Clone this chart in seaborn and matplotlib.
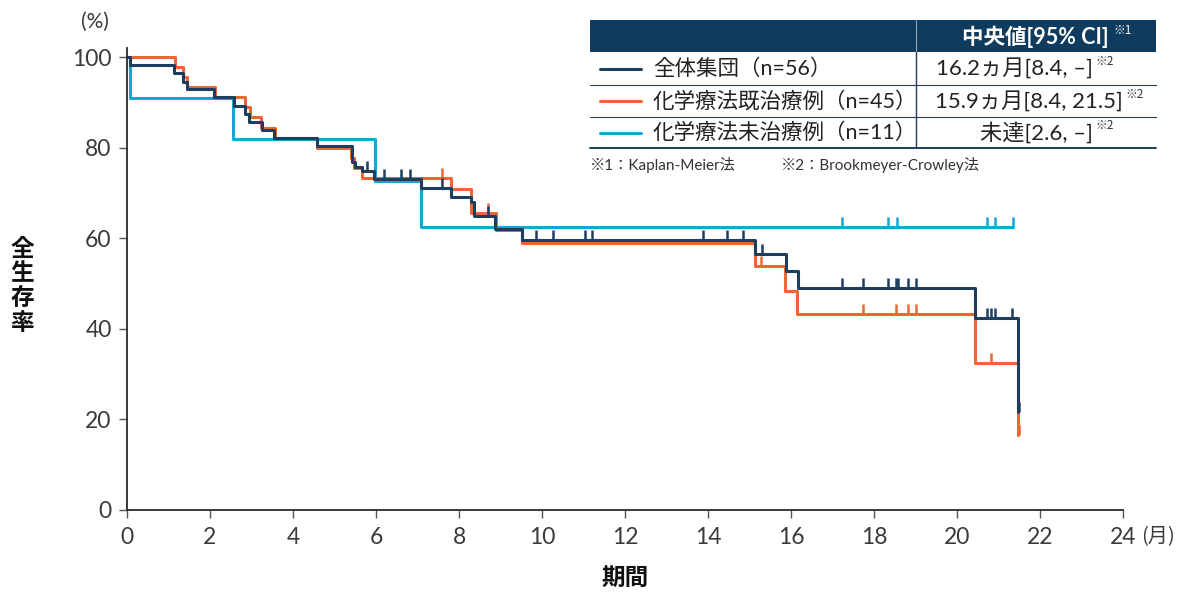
import matplotlib
matplotlib.use("Agg")
from matplotlib import pyplot as plt
from matplotlib.path import Path
from matplotlib.patches import Rectangle
import seaborn as sns
import pandas as pd

# Kaplan-Meier step points (months, % surviving)
all_t = [0, 0.07, 1.14, 1.36, 1.45, 2.10, 2.57, 2.84, 2.95, 3.25, 3.55, 4.58, 5.41, 5.50, 5.66,
         5.94, 7.08, 7.80, 8.28, 8.35, 8.87, 9.51, 15.13, 15.87, 16.16, 20.43, 21.48]
all_s = [100, 98.2, 96.4, 94.6, 92.9, 91.1, 89.3, 87.5, 85.7, 83.9, 82.1, 80.4, 76.8, 75.8, 74.9,
         73.0, 71.2, 69.0, 68.1, 65.0, 62.0, 59.7, 56.5, 52.7, 49.1, 42.3, 21.7]
all_cens_t = [5.78, 6.20, 6.60, 6.82, 7.60, 8.69, 9.86, 10.27, 11.04, 11.21, 13.87, 14.45, 14.85,
              15.29, 17.22, 17.74, 18.33, 18.53, 18.59, 18.83, 19.01, 20.72, 20.82, 20.92, 21.33, 21.50]
all_cens_s = [74.9, 73.0, 73.0, 73.0, 71.2, 65.0, 59.7, 59.7, 59.7, 59.7, 59.7, 59.7, 59.7,
              56.5, 49.1, 49.1, 49.1, 49.1, 49.1, 49.1, 49.1, 42.3, 42.3, 42.3, 42.3, 21.7]

pre_t = [0, 1.16, 1.36, 1.45, 2.12, 2.84, 2.96, 3.24, 3.57, 4.58, 5.40, 5.48, 5.66, 7.81, 8.28,
         8.88, 9.51, 15.13, 15.86, 16.15, 20.43, 21.48]
pre_s = [100, 97.8, 95.6, 93.3, 91.1, 88.9, 86.7, 84.4, 82.2, 80.0, 77.8, 75.6, 73.3, 70.9, 65.5,
         61.8, 59.0, 53.9, 48.3, 43.3, 32.4, 16.5]
pre_cens_t = [7.60, 8.69, 15.28, 17.74, 18.53, 18.83, 19.01, 20.81, 21.50]
pre_cens_s = [73.3, 65.5, 53.9, 43.3, 43.3, 43.3, 43.3, 32.4, 16.5]

naive_t = [0, 0.07, 2.56, 5.97, 7.08, 21.35]
naive_s = [100, 90.9, 81.8, 72.7, 62.4, 62.4]
naive_cens_t = [17.22, 18.33, 18.56, 20.72, 20.91, 21.35]
naive_cens_s = [62.4, 62.4, 62.4, 62.4, 62.4, 62.4]

labels = ["全体集団（n=56）", "化学療法既治療例（n=45）", "化学療法未治療例（n=11）"]
medians = ["16.2ヵ月[8.4, –]", "15.9ヵ月[8.4, 21.5]", "未達[2.6, –]"]

NAVY = "#1d3e5f"
ORANGE = "#ee6631"
CYAN = "#13a6d6"
HEAD = "#0f3c5e"

sns.set_style("ticks")
plt.rcParams['font.family'] = ['Noto Sans CJK JP', 'DejaVu Sans']
MIX = ['Lato', 'Noto Sans CJK JP', 'DejaVu Sans']

W, H = 1183, 592
fig = plt.figure(figsize=(W / 100, H / 100), dpi=100)
ax = fig.add_axes([127 / W, 1 - 510 / H, (1123 - 127) / W, (510 - 48) / H])

tick = Path([(0, 0), (0, 1)], [Path.MOVETO, Path.LINETO])
curves = [
    (naive_t, naive_s, naive_cens_t, naive_cens_s, CYAN),
    (pre_t, pre_s, pre_cens_t, pre_cens_s, ORANGE),
    (all_t, all_s, all_cens_t, all_cens_s, NAVY),
]
for t, s, ct, cs, col in curves:
    df = pd.DataFrame({"t": t, "s": s})
    sns.lineplot(data=df, x="t", y="s", ax=ax, color=col, lw=2.2,
                 drawstyle="steps-post", estimator=None, sort=False)
    ax.plot(ct, cs, ls="none", marker=tick, markersize=14, mew=1.8,
            mec=col, mfc=col)

ax.set_xlim(0, 24)
ax.set_ylim(0, 102)
ax.set_xticks(range(0, 25, 2))
ax.set_yticks(range(0, 101, 20))
ax.set_xlabel("")
ax.set_ylabel("")
sns.despine(ax=ax)
for sp in ["left", "bottom"]:
    ax.spines[sp].set_linewidth(1.3)
    ax.spines[sp].set_color("#2a2a2a")
ax.tick_params(axis="both", direction="out", length=6, width=1, color="#555",
               labelsize=16.5, labelcolor="#3a3a3a")
ax.tick_params(axis="x", pad=6)
ax.tick_params(axis="y", pad=5)
for lb in ax.get_xticklabels() + ax.get_yticklabels():
    lb.set_family(MIX)

# overlay in pixel coordinates for labels and the table
ov = fig.add_axes([0, 0, 1, 1], zorder=5)
ov.set_xlim(0, W)
ov.set_ylim(H, 0)
ov.axis("off")

ov.text(95, 22, "(%)", fontsize=15, color="#3a3a3a", ha="center", va="center", family=MIX)
ov.text(1141, 537, "(月)", fontsize=14.5, color="#3a3a3a", ha="left", va="center")
ov.text(22, 286, "全\n生\n存\n率", fontsize=17, fontweight="bold", ha="center", va="center",
        linespacing=1.05, color="#111")
ov.text(625, 578, "期間", fontsize=17, fontweight="bold", ha="center", va="center", color="#111")

# table
L, R, D = 590, 1156, 916
ov.add_patch(Rectangle((L, 20), R - L, 32, color=HEAD, lw=0))
ov.plot([D, D], [20, 52], color="#8fa3b6", lw=0.8)
ov.plot([D, D], [52, 148], color=NAVY, lw=1)
ov.plot([L, R], [85, 85], color=NAVY, lw=0.8)
ov.plot([L, R], [117, 117], color=NAVY, lw=0.8)
ov.plot([L, R], [148, 148], color=NAVY, lw=1.4)

ov.text(1109, 37, "中央値[95% CI]", fontsize=15.5, fontweight="bold", color="white",
        ha="right", va="center", family=MIX)
ov.text(1113, 31, "※1", fontsize=8.5, color="white", ha="left", va="center")

rows_y = [68.5, 101, 132.5]
val_right = [1093, 1123, 1093]
for y, lab, med, vr, col in zip(rows_y, labels, medians, val_right, [NAVY, ORANGE, CYAN]):
    ov.plot([600, 641], [y, y], color=col, lw=2.2)
    ov.text(653, y, lab, fontsize=15.5, color="#222", ha="left", va="center", family=MIX)
    ov.text(vr, y, med, fontsize=16, color="#222", ha="right", va="center", family=MIX)
    ov.text(vr + 2, y - 7, "※2", fontsize=8.5, color="#333", ha="left", va="center")

ov.text(590, 165, "※1：Kaplan-Meier法", fontsize=11, color="#333", ha="left", va="center", family=MIX)
ov.text(781, 165, "※2：Brookmeyer-Crowley法", fontsize=11, color="#333", ha="left", va="center",
        family=MIX)

fig.savefig("out.png", dpi=100)
